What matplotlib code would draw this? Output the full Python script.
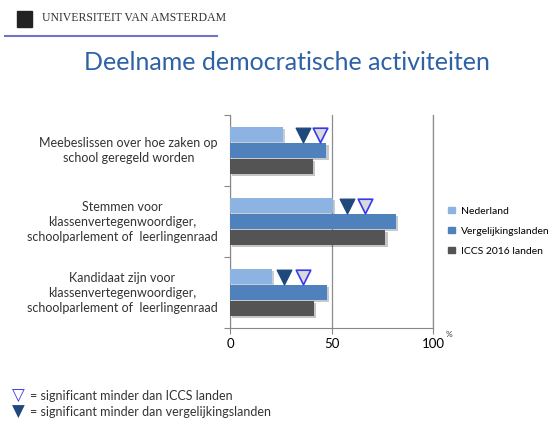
import matplotlib.pyplot as plt
import matplotlib.patheffects as pe
import matplotlib.patches as mpatches
import numpy as np

# Data
categories = ["Meebeslissen over hoe zaken op\nschool geregeld worden",
              "Stemmen voor\nklassenvertegenwoordiger,\nschoolparlement of  leerlingenraad",
              "Kandidaat zijn voor\nklassenvertegenwoordiger,\nschoolparlement of  leerlingenraad"]
series_names = ["Nederland", "Vergelijkingslanden", "ICCS 2016 landen"]
nederland = [26, 50.5, 20.5]
vergelijking = [47.5, 81.8, 47.6]
iccs = [40.7, 76.6, 41.4]
# significance markers (x positions in %)
sig_verg = [35.8, 57.5, 26.8]   # filled: minder dan vergelijkingslanden
sig_iccs = [44.3, 66.5, 35.8]   # open: minder dan ICCS landen

colors = ["#8db3e2", "#4f81bd", "#545454"]

plt.rcParams['font.family'] = ['Lato', 'DejaVu Sans']

fig = plt.figure(figsize=(5.6, 4.23), dpi=100)

# Header
fig.patches.append(plt.Rectangle((17 / 560, 1 - 27 / 423), 15 / 560, 16 / 423,
                                 transform=fig.transFigure, color="#222222"))
fig.text(42 / 560, 1 - 18 / 423, "UNIVERSITEIT VAN AMSTERDAM", fontsize=8.5,
         family="Liberation Serif", color="#333333", va="center")
fig.add_artist(plt.Line2D([5 / 560, 217 / 560], [1 - 36 / 423, 1 - 36 / 423],
                          transform=fig.transFigure, color="#7373c4", lw=1.5))

# Title
fig.text(287 / 560, 1 - 62 / 423, "Deelname democratische activiteiten",
         fontsize=18, color="#2e62a6", ha="center", va="center")

ax = fig.add_axes([230 / 560, 95 / 423, 203 / 560, 213 / 423])

y = np.arange(len(categories))
h = 0.21
step = 0.225
shadow = [pe.SimplePatchShadow(offset=(1.5, -1.5), alpha=0.25), pe.Normal()]
for i, (vals, c) in enumerate(zip([nederland, vergelijking, iccs], colors)):
    bars = ax.barh(y + (i - 1) * step, vals, height=h, color=c, zorder=3)
    for b in bars:
        b.set_path_effects(shadow)

ax.scatter(sig_verg, y - step, marker="v", s=110, color="#1f497d", zorder=4)
ax.scatter(sig_iccs, y - step, marker="v", s=110, facecolor="#d9d9d9",
           edgecolor="#3838f0", linewidth=1.2, zorder=4)

ax.set_xlim(0, 100)
ax.set_ylim(2.5, -0.5)
ax.set_xticks([0, 50, 100])
ax.set_xticklabels(["0", "50", "100"], fontsize=9.5)
ax.set_yticks([-0.5, 0.5, 1.5, 2.5])
ax.set_yticklabels([])
ax.tick_params(axis="y", length=4, color="#888888")
ax.tick_params(axis="x", length=4, color="#888888", pad=3)
for t, lab in zip(y, categories):
    ax.text(-6, t, lab, ha="right", va="center", multialignment="center",
            fontsize=9, color="#333333", linespacing=1.3)
ax.grid(axis="x", color="#8c8c8c", lw=0.9, zorder=0)
ax.axvline(100, color="#8c8c8c", lw=0.9, zorder=0, clip_on=False)
for s in ["top", "right"]:
    ax.spines[s].set_visible(False)
for s in ["left", "bottom"]:
    ax.spines[s].set_color("#888888")
fig.text(446 / 560, 1 - 337 / 423, "%", fontsize=6, color="#333333")

# Legend
handles = [mpatches.Patch(color=c, label=n) for c, n in zip(colors, series_names)]
ax.legend(handles=handles, loc="center left", bbox_to_anchor=(1.03, 0.455), frameon=False,
          fontsize=7.5, handlelength=0.6, handleheight=0.6, handletextpad=0.6,
          labelspacing=1.05)

# Bottom legend
fig.text(12 / 560, 1 - 396 / 423, "▽", fontsize=12, color="#3838f0", va="center")
fig.text(30 / 560, 1 - 396 / 423, "= significant minder dan ICCS landen", fontsize=9,
         color="#333333", va="center")
fig.text(12 / 560, 1 - 412 / 423, "▼", fontsize=12, color="#1f497d", va="center")
fig.text(30 / 560, 1 - 412 / 423, "= significant minder dan vergelijkingslanden", fontsize=9,
         color="#333333", va="center")

fig.savefig("out.png", dpi=100)
